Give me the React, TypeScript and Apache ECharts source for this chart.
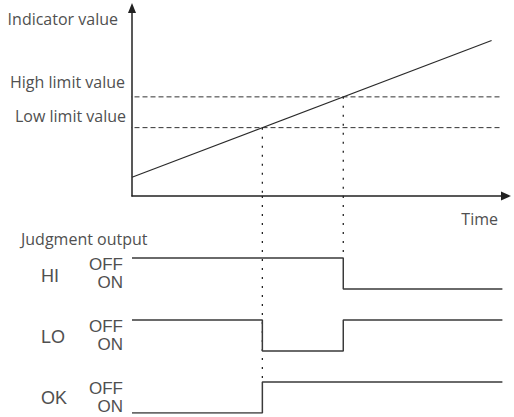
import React, { useEffect, useRef } from 'react';
import * as echarts from 'echarts';

// ---- data ----
const indicatorTimes = [0, 100];
const indicatorValues = [11, 91];
const lowLimit = 40;
const highLimit = 58;
const limitLineStart = -26;
const timeEnd = 103;
const timeAxisMax = 104;
const valueAxisMax = 110;

const signalNames = ['HI', 'LO', 'OK'];
const hiStates = ['OFF', 'ON'];
const loStates = ['OFF', 'ON', 'OFF'];
const okStates = ['ON', 'OFF'];
const hiSwitchAt = ['high'];
const loSwitchAt = ['low', 'high'];
const okSwitchAt = ['low'];
// bottom-grid level ticks, value 0..5 (OK ON, OK OFF, LO ON, LO OFF, HI ON, HI OFF)
const stateTicks = ['ON', 'OFF', 'ON', 'OFF', 'ON', 'OFF'];
const signalAxisMax = 7;

const titleIndicator = 'Indicator value';
const titleHigh = 'High limit value';
const titleLow = 'Low limit value';
const titleTime = 'Time';
const titleJudgment = 'Judgment output';

function crossTime(level: number) {
  const [t0, t1] = indicatorTimes;
  const [v0, v1] = indicatorValues;
  return t0 + ((level - v0) * (t1 - t0)) / (v1 - v0);
}

const crossing: Record<string, number> = {
  low: crossTime(lowLimit),
  high: crossTime(highLimit),
};

function signalPoints(states: string[], switches: string[], channel: number) {
  const bounds = [0, ...switches.map((s) => crossing[s]), timeEnd];
  const base = (signalNames.length - 1 - channel) * 2;
  const pts: number[][] = [];
  states.forEach((s, i) => {
    const y = base + (s === 'OFF' ? 1 : 0);
    pts.push([bounds[i], y], [bounds[i + 1], y]);
  });
  return pts;
}

function offLevel(channel: number) {
  return (signalNames.length - 1 - channel) * 2 + 1;
}

const TEXT = '#505050';
const LINE = '#222';
const SIG = '#3a3a3a';
const SANS = "'Open Sans', 'Noto Sans', sans-serif";
const ARIAL = "'Liberation Sans', Arial, sans-serif";

export default function App() {
  const ref = useRef<HTMLDivElement>(null);

  useEffect(() => {
    document.body.style.margin = '0';
    if (!ref.current) return;
    const chart = echarts.init(ref.current, undefined, { renderer: 'svg' });

    const dotted = { color: LINE, width: 1.3, type: [2, 7] as any };
    const lineBase = { type: 'line', symbol: 'none', silent: true, animation: false };

    const series: any[] = [
      // vertical dotted guides, top grid
      { ...lineBase, xAxisIndex: 0, yAxisIndex: 0, lineStyle: dotted,
        data: [[crossing.low, lowLimit], [crossing.low, 0]] },
      { ...lineBase, xAxisIndex: 0, yAxisIndex: 0, lineStyle: dotted,
        data: [[crossing.high, highLimit], [crossing.high, 0]] },
      // vertical dotted guides, bottom grid
      { ...lineBase, xAxisIndex: 1, yAxisIndex: 1, lineStyle: dotted,
        data: [[crossing.low, signalAxisMax], [crossing.low, offLevel(2)]] },
      { ...lineBase, xAxisIndex: 1, yAxisIndex: 1, lineStyle: dotted,
        data: [[crossing.high, signalAxisMax], [crossing.high, offLevel(0)]] },
      // limit lines
      { ...lineBase, xAxisIndex: 0, yAxisIndex: 0, clip: false,
        lineStyle: { color: '#333', width: 1, type: [5, 3] },
        data: [[limitLineStart, highLimit], [timeEnd, highLimit]] },
      { ...lineBase, xAxisIndex: 0, yAxisIndex: 0, clip: false,
        lineStyle: { color: '#333', width: 1, type: [5, 3] },
        data: [[limitLineStart, lowLimit], [timeEnd, lowLimit]] },
      // indicator
      { ...lineBase, xAxisIndex: 0, yAxisIndex: 0,
        lineStyle: { color: '#2a2a2a', width: 1.2 },
        data: indicatorTimes.map((t, i) => [t, indicatorValues[i]]) },
      // signals
      { ...lineBase, name: 'HI', xAxisIndex: 1, yAxisIndex: 1,
        lineStyle: { color: SIG, width: 1.5 }, data: signalPoints(hiStates, hiSwitchAt, 0) },
      { ...lineBase, name: 'LO', xAxisIndex: 1, yAxisIndex: 1,
        lineStyle: { color: SIG, width: 1.5 }, data: signalPoints(loStates, loSwitchAt, 1) },
      { ...lineBase, name: 'OK', xAxisIndex: 1, yAxisIndex: 1,
        lineStyle: { color: SIG, width: 1.5 }, data: signalPoints(okStates, okSwitchAt, 2) },
    ];

    const hiddenAxisParts = {
      axisTick: { show: false },
      splitLine: { show: false },
    };

    const stateAxis = (which: string, vAlign: string, lh: number) => ({
      type: 'value',
      gridIndex: 1,
      position: 'left',
      offset: 0,
      min: 0,
      max: signalAxisMax,
      interval: 1,
      axisLine: { show: false },
      ...hiddenAxisParts,
      axisLabel: {
        show: true,
        margin: 9,
        color: TEXT,
        fontFamily: ARIAL,
        fontSize: 17,
        verticalAlign: vAlign,
        lineHeight: lh,
        formatter: (v: number) => (stateTicks[v] === which ? which : ''),
      },
    });

    const text = (t: string, x: number, y: number, align: string, font: string, size: number) => ({
      type: 'text',
      x,
      y,
      silent: true,
      style: {
        text: t,
        fill: TEXT,
        fontFamily: font,
        fontSize: size,
        textAlign: align,
        align,
        textVerticalAlign: 'middle',
        verticalAlign: 'middle',
      },
    });

    chart.setOption({
      animation: false,
      grid: [
        { left: 132, right: 8, top: 8, bottom: 221, outerBoundsMode: 'none', containLabel: false },
        { left: 132, right: 8, top: 196, bottom: 4, outerBoundsMode: 'none', containLabel: false },
      ],
      xAxis: [
        {
          type: 'value', gridIndex: 0, min: 0, max: timeAxisMax,
          axisLine: { show: true, symbol: ['none', 'triangle'], symbolSize: [9, 10],
            lineStyle: { color: LINE, width: 1.5 } },
          axisLabel: { show: false },
          ...hiddenAxisParts,
        },
        { type: 'value', gridIndex: 1, min: 0, max: timeAxisMax, show: false },
      ],
      yAxis: [
        {
          type: 'value', gridIndex: 0, min: 0, max: valueAxisMax,
          axisLine: { show: true, symbol: ['none', 'triangle'], symbolSize: [8, 10],
            lineStyle: { color: LINE, width: 1.5 } },
          axisLabel: { show: false },
          ...hiddenAxisParts,
        },
        stateAxis('OFF', 'top', 13),
        stateAxis('ON', 'bottom', 14),
      ],
      series,
      graphic: [
        text(titleIndicator, 118, 19, 'right', SANS, 16),
        text(titleHigh, 125, 82, 'right', SANS, 16),
        text(titleLow, 126, 116, 'right', SANS, 16),
        text(titleTime, 498, 219, 'right', SANS, 16),
        text(titleJudgment, 21, 239, 'left', SANS, 16),
        text(signalNames[0], 41, 276, 'left', ARIAL, 18),
        text(signalNames[1], 41, 337, 'left', ARIAL, 18),
        text(signalNames[2], 41, 398, 'left', ARIAL, 18),
      ],
    });

    return () => chart.dispose();
  }, []);

  return <div ref={ref} style={{ width: 514, height: 417 }} />;
}
